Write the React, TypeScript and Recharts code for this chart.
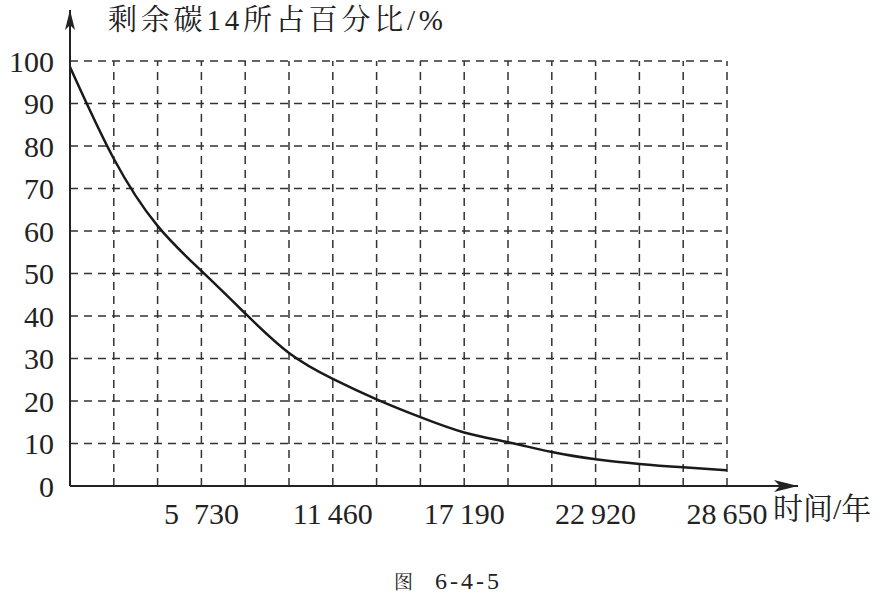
import React from "react"
import { LineChart, Line, XAxis, YAxis, ReferenceLine, ReferenceDot } from "recharts"

const years = [0, 1910, 3820, 5730, 7640, 9550, 11460, 13370, 15280, 17190, 19100, 21010, 22920, 24830, 26740, 28650]
const remaining = [98.6, 77, 61.2, 50.6, 40.6, 31.3, 25.2, 20.4, 16.2, 12.6, 10.3, 8, 6.3, 5.2, 4.4, 3.7]

const xTicks = [5730, 11460, 17190, 22920, 28650]
const xTickLabels = ["5\u2002730", "11\u2009460", "17\u2009190", "22\u2009920", "28\u2009650"]
const yTicks = [0, 10, 20, 30, 40, 50, 60, 70, 80, 90, 100]

const gridX = years.slice(1)
const gridY = yTicks.slice(1)

const xEnd = 28650
const yEnd = 100
const xArrow = 31746
const yArrow = 112

const data = years.map((t, i) => ({ t, p: remaining[i] }))

const serif = `"Liberation Serif", "Noto Serif CJK SC", serif`
const ink = "#222"

const RightArrow = ({ cx, cy }: any) => (
  <path d={`M${cx},${cy} L${cx - 24},${cy - 6} L${cx - 18},${cy} L${cx - 24},${cy + 6} Z`} fill={ink} />
)
const UpArrow = ({ cx, cy }: any) => (
  <path d={`M${cx},${cy} L${cx - 5},${cy + 20} L${cx},${cy + 15} L${cx + 5},${cy + 20} Z`} fill={ink} />
)

const XTick = ({ x, y, payload }: any) => (
  <text x={x} y={y + 9} dy="0.71em" textAnchor="middle" fill={ink} style={{ fontFamily: serif, fontSize: 30 }}>
    {xTickLabels[xTicks.indexOf(payload.value)] ?? ""}
  </text>
)

const YTick = ({ x, y, payload }: any) => (
  <text x={x - 8} y={y} dy="0.355em" textAnchor="end" fill={ink} style={{ fontFamily: serif, fontSize: 30 }}>
    {payload.value}
  </text>
)

export default function App() {
  return (
    <div style={{ position: "absolute", left: 0, top: 0, width: 888, height: 601, background: "#fff", fontFamily: serif }}>
      <LineChart width={888} height={601} data={data} margin={{ top: 10, right: 90, bottom: 0, left: 0 }}>
        <XAxis
          dataKey="t"
          type="number"
          domain={[0, xArrow]}
          ticks={xTicks}
          tickLine={false}
          axisLine={{ stroke: ink, strokeWidth: 2 }}
          tick={<XTick />}
          height={115}
          interval={0}
        />
        <YAxis
          type="number"
          domain={[0, yArrow]}
          ticks={yTicks}
          tickLine={false}
          axisLine={{ stroke: ink, strokeWidth: 2 }}
          tick={<YTick />}
          width={70}
          interval={0}
        />
        {gridY.map((v) => (
          <ReferenceLine
            key={"h" + v}
            segment={[{ x: 0, y: v }, { x: xEnd, y: v }]}
            stroke="#333"
            strokeWidth={1.5}
            strokeDasharray="8 6"
          />
        ))}
        {gridX.map((v) => (
          <ReferenceLine
            key={"v" + v}
            segment={[{ x: v, y: 0 }, { x: v, y: yEnd }]}
            stroke="#333"
            strokeWidth={1.5}
            strokeDasharray="8 6"
          />
        ))}
        <ReferenceDot x={xArrow} y={0} r={0} shape={<RightArrow />} />
        <ReferenceDot x={0} y={yArrow} r={0} shape={<UpArrow />} />
        <Line
          type="natural"
          dataKey="p"
          stroke="#1a1a1a"
          strokeWidth={2.5}
          dot={false}
          isAnimationActive={false}
        />
      </LineChart>
      <div style={{ position: "absolute", left: 108, top: 6, fontSize: 29, lineHeight: 1, color: ink, letterSpacing: 3.8, whiteSpace: "nowrap" }}>
        剩余碳14所占百分比/%
      </div>
      <div style={{ position: "absolute", left: 773, top: 494, fontSize: 30, lineHeight: 1, color: ink, whiteSpace: "nowrap" }}>
        时间/年
      </div>
      <div style={{ position: "absolute", left: 394, top: 569, lineHeight: 1, color: ink, whiteSpace: "nowrap" }}>
        <span style={{ fontSize: 19 }}>图</span>
        <span style={{ fontSize: 24, letterSpacing: 3, marginLeft: 22 }}>6-4-5</span>
      </div>
    </div>
  )
}
